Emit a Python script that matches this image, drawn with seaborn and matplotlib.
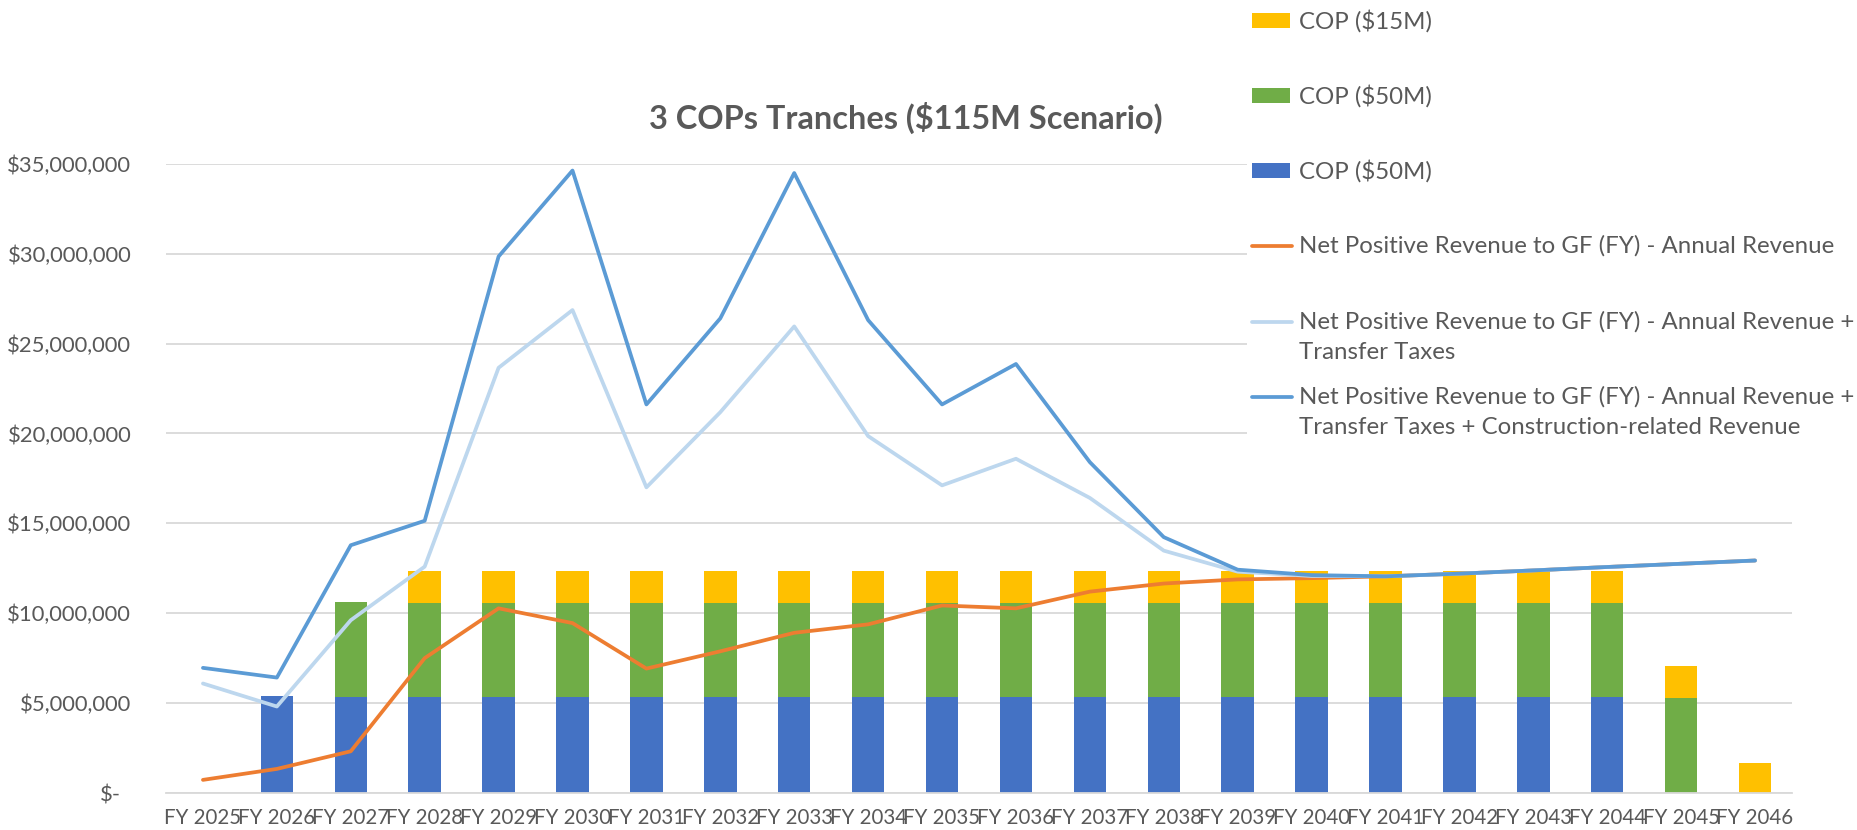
import numpy as np
import pandas as pd
import matplotlib.pyplot as plt
import matplotlib.patches as mpatches
from matplotlib.lines import Line2D
from matplotlib.ticker import FuncFormatter
from matplotlib.transforms import ScaledTranslation
import seaborn as sns

### data (values in $ millions) ###
years = ['FY 2025', 'FY 2026', 'FY 2027', 'FY 2028', 'FY 2029', 'FY 2030', 'FY 2031', 'FY 2032',
         'FY 2033', 'FY 2034', 'FY 2035', 'FY 2036', 'FY 2037', 'FY 2038', 'FY 2039', 'FY 2040',
         'FY 2041', 'FY 2042', 'FY 2043', 'FY 2044', 'FY 2045', 'FY 2046']

# stacked bars: first $50M tranche, second $50M tranche, $15M tranche
cop_50a = [0, 5.37, 5.32, 5.32, 5.32, 5.32, 5.32, 5.32, 5.32, 5.32, 5.32, 5.32, 5.32, 5.32, 5.32, 5.32,
           5.32, 5.32, 5.32, 5.32, 0, 0]
cop_50b = [0, 0, 5.32, 5.25, 5.25, 5.25, 5.25, 5.25, 5.25, 5.25, 5.25, 5.25, 5.25, 5.25, 5.25, 5.25,
           5.25, 5.25, 5.25, 5.25, 5.28, 0]
cop_15 = [0, 0, 0, 1.76, 1.76, 1.76, 1.76, 1.76, 1.76, 1.76, 1.76, 1.76, 1.76, 1.76, 1.76, 1.76,
          1.76, 1.76, 1.76, 1.76, 1.76, 1.67]

# lines
annual = [0.73, 1.34, 2.32, 7.50, 10.27, 9.45, 6.92, 7.88, 8.91, 9.38, 10.43, 10.27, 11.20, 11.65,
          11.88, 11.95, 12.05, 12.20, 12.38, 12.57, 12.75, 12.93]
transfer = [6.09, 4.81, 9.61, 12.59, 23.65, 26.86, 17.00, 21.18, 25.95, 19.85, 17.11, 18.59, 16.41,
            13.48, 12.31, 12.07, 12.05, 12.20, 12.38, 12.57, 12.75, 12.93]
construction = [6.96, 6.42, 13.78, 15.14, 29.84, 34.62, 21.61, 26.40, 34.48, 26.30, 21.61, 23.86,
                18.40, 14.23, 12.42, 12.12, 12.05, 12.20, 12.38, 12.57, 12.75, 12.93]

labels = ['COP ($15M)', 'COP ($50M)', 'COP ($50M)',
          'Net Positive Revenue to GF (FY) - Annual Revenue',
          'Net Positive Revenue to GF (FY) - Annual Revenue +\nTransfer Taxes',
          'Net Positive Revenue to GF (FY) - Annual Revenue +\nTransfer Taxes + Construction-related Revenue']

c_blue, c_green, c_yellow = '#4472C4', '#70AD47', '#FFC000'
c_orange, c_light, c_dark = '#ED7D31', '#BDD7EE', '#5B9BD5'
grey_txt = '#595959'
grey_line = '#D9D9D9'

df = pd.DataFrame({'year': years, 'a': cop_50a, 'b': cop_50b, 'c': cop_15,
                   'annual': annual, 'transfer': transfer, 'construction': construction})
df[['a', 'b', 'c', 'annual', 'transfer', 'construction']] *= 1e6
df['pos'] = np.arange(len(df))

sns.set_style('white')
plt.rcParams['font.family'] = ['Lato', 'DejaVu Sans']

W, H = 1858, 830
fig = plt.figure(figsize=(W / 100, H / 100), dpi=100)
ax = fig.add_axes([166 / W, 1 - 793 / H, (1792 - 166) / W, (793 - 163.7) / H])

#stacked bars
bw = 0.44
ax.bar(df['pos'], df['a'], width=bw, color=c_blue, lw=0, zorder=2)
ax.bar(df['pos'], df['b'], width=bw, bottom=df['a'], color=c_green, lw=0, zorder=2)
ax.bar(df['pos'], df['c'], width=bw, bottom=df['a'] + df['b'], color=c_yellow, lw=0, zorder=2)

#lines
lw = 2.7
sns.lineplot(data=df, x='pos', y='annual', color=c_orange, lw=lw, ax=ax, zorder=3)
sns.lineplot(data=df, x='pos', y='transfer', color=c_light, lw=lw, ax=ax, zorder=4)
sns.lineplot(data=df, x='pos', y='construction', color=c_dark, lw=lw, ax=ax, zorder=5)

ax.set_xlim(-0.5, len(years) - 0.5)
ax.set_ylim(0, 35e6)
ax.set_yticks(np.arange(0, 35e6 + 1, 5e6))
ax.yaxis.set_major_formatter(FuncFormatter(lambda v, p: '$-' if v == 0 else '${:,.0f}'.format(v)))
ax.set_xticks(df['pos'])
ax.set_xticklabels(years)
ax.set_xticks(np.arange(-0.5, len(years), 1), minor=True)
ax.set_xlabel('')
ax.set_ylabel('')

ax.grid(axis='y', color=grey_line, lw=1.3, zorder=0)
ax.grid(axis='x', visible=False)
for s in ['top', 'right', 'left']:
    ax.spines[s].set_visible(False)
ax.spines['bottom'].set_color(grey_line)
ax.spines['bottom'].set_linewidth(1.3)
ax.tick_params(axis='x', which='major', length=0, pad=11, labelsize=14.8, labelcolor=grey_txt)
ax.tick_params(axis='x', which='minor', length=5, width=1.3, color=grey_line, direction='out')
ax.tick_params(axis='y', length=0, pad=25, labelsize=15.8, labelcolor=grey_txt)

# "$-" sits a bit further left (accounting format)
zl = ax.get_yticklabels()[0]
zl.set_transform(zl.get_transform() + ScaledTranslation(-10 / 100, 0, fig.dpi_scale_trans))

fig.text(906 / W, 1 - 118 / H, '3 COPs Tranches ($115M Scenario)', ha='center', va='center',
         fontsize=23.4, fontweight='bold', color=grey_txt)

#legend drawn by hand so the entries land where the original puts them
fig.add_artist(mpatches.Rectangle((1247 / W, 1 - 444 / H), 1 - 1247 / W, 444 / H,
                                  transform=fig.transFigure, facecolor='white', edgecolor='none', zorder=5))
ys = [21, 96, 171, 246, 337, 412]
for col, y in zip([c_yellow, c_green, c_blue], ys[:3]):
    fig.add_artist(mpatches.Rectangle((1252 / W, 1 - (y + 7.5) / H), 38 / W, 15 / H,
                                      transform=fig.transFigure, facecolor=col, edgecolor='none', zorder=6))
for col, yl in zip([c_orange, c_light, c_dark], [246, 322, 397]):
    fig.add_artist(Line2D([1252 / W, 1292 / W], [1 - yl / H, 1 - yl / H], transform=fig.transFigure,
                          color=col, lw=lw, zorder=6))
for lab, y in zip(labels, ys):
    fig.text(1299 / W, 1 - y / H, lab, ha='left', va='center', fontsize=17.3, color=grey_txt,
             linespacing=1.5, zorder=7)

plt.savefig('out.png', dpi=100)
plt.close()
